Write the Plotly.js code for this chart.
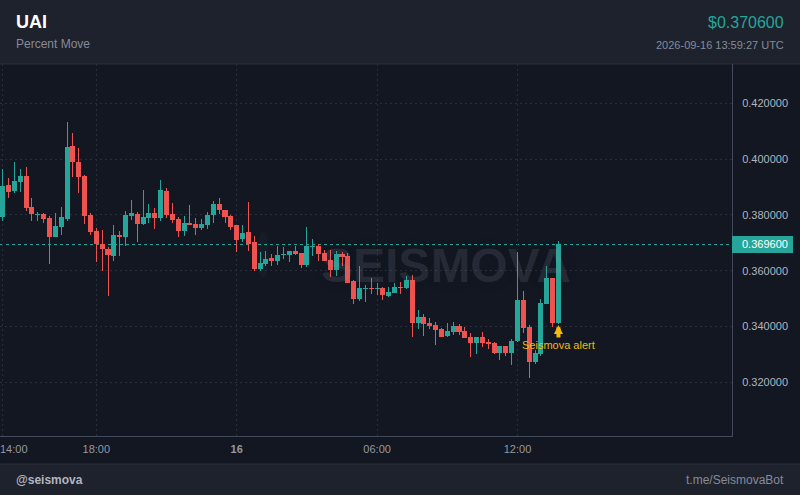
<!DOCTYPE html>
<html>
<head>
<meta charset="utf-8">
<script src="https://cdn.plot.ly/plotly-3.0.1.min.js"></script>
<style>
  html, body { margin: 0; padding: 0; background: #131722; }
  #chart { width: 800px; height: 495px; }
  /* keep wicks and bodies on whole pixels */
  #chart .boxlayer path, #chart .scatterlayer path { shape-rendering: crispEdges; }
</style>
</head>
<body>
<div id="chart"></div>
<script>
// 15 minute candles
var times = [
  '2026-09-15 14:00','2026-09-15 14:15','2026-09-15 14:30','2026-09-15 14:45',
  '2026-09-15 15:00','2026-09-15 15:15','2026-09-15 15:30','2026-09-15 15:45',
  '2026-09-15 16:00','2026-09-15 16:15','2026-09-15 16:30','2026-09-15 16:45',
  '2026-09-15 17:00','2026-09-15 17:15','2026-09-15 17:30','2026-09-15 17:45',
  '2026-09-15 18:00','2026-09-15 18:15','2026-09-15 18:30','2026-09-15 18:45',
  '2026-09-15 19:00','2026-09-15 19:15','2026-09-15 19:30','2026-09-15 19:45',
  '2026-09-15 20:00','2026-09-15 20:15','2026-09-15 20:30','2026-09-15 20:45',
  '2026-09-15 21:00','2026-09-15 21:15','2026-09-15 21:30','2026-09-15 21:45',
  '2026-09-15 22:00','2026-09-15 22:15','2026-09-15 22:30','2026-09-15 22:45',
  '2026-09-15 23:00','2026-09-15 23:15','2026-09-15 23:30','2026-09-15 23:45',
  '2026-09-16 00:00','2026-09-16 00:15','2026-09-16 00:30','2026-09-16 00:45',
  '2026-09-16 01:00','2026-09-16 01:15','2026-09-16 01:30','2026-09-16 01:45',
  '2026-09-16 02:00','2026-09-16 02:15','2026-09-16 02:30','2026-09-16 02:45',
  '2026-09-16 03:00','2026-09-16 03:15','2026-09-16 03:30','2026-09-16 03:45',
  '2026-09-16 04:00','2026-09-16 04:15','2026-09-16 04:30','2026-09-16 04:45',
  '2026-09-16 05:00','2026-09-16 05:15','2026-09-16 05:30','2026-09-16 05:45',
  '2026-09-16 06:00','2026-09-16 06:15','2026-09-16 06:30','2026-09-16 06:45',
  '2026-09-16 07:00','2026-09-16 07:15','2026-09-16 07:30','2026-09-16 07:45',
  '2026-09-16 08:00','2026-09-16 08:15','2026-09-16 08:30','2026-09-16 08:45',
  '2026-09-16 09:00','2026-09-16 09:15','2026-09-16 09:30','2026-09-16 09:45',
  '2026-09-16 10:00','2026-09-16 10:15','2026-09-16 10:30','2026-09-16 10:45',
  '2026-09-16 11:00','2026-09-16 11:15','2026-09-16 11:30','2026-09-16 11:45',
  '2026-09-16 12:00','2026-09-16 12:15','2026-09-16 12:30','2026-09-16 12:45',
  '2026-09-16 13:00','2026-09-16 13:15','2026-09-16 13:30','2026-09-16 13:45'
];
var opens = [
  .37925,.39072,.38856,.39179,.39394,.38283,.37996,.38032,
  .37889,.37208,.37566,.37853,.40469,.39896,.39394,.37996,
  .37423,.36945,.36778,.36527,.37279,.37208,.37960,.38032,
  .37674,.37889,.38068,.37889,.38856,.38032,.37853,.37423,
  .37710,.37674,.37531,.37638,.37997,.38391,.38176,.37961,
  .37638,.37136,.37387,.37029,.36061,.36240,.36455,.36348,
  .36563,.36563,.36706,.36635,.36205,.36850,.36886,.36635,
  .36384,.36025,.36599,.36527,.35631,.34986,.35344,.35380,
  .35344,.35380,.35093,.35201,.35416,.35380,.35667,.34126,
  .34341,.34126,.34054,.33911,.33660,.33803,.34018,.33839,
  .33624,.33409,.33624,.33445,.33409,.33051,.33301,.33051,
  .33481,.34950,.33982,.32728,.33015,.34807,.35739,.34126
];
var highs = [
  .39645,.39322,.39896,.39645,.39717,.38606,.38104,.38068,
  .37960,.38068,.38283,.41329,.40935,.40398,.39430,.38068,
  .37530,.37459,.36849,.37638,.37423,.38140,.38534,.38104,
  .38892,.38391,.38247,.39251,.38964,.38426,.37925,.37960,
  .38355,.37889,.37853,.38104,.38498,.38606,.38176,.37997,
  .37638,.37638,.38462,.37244,.36670,.36706,.36599,.36886,
  .36850,.36706,.36886,.36635,.37566,.37136,.36957,.36742,
  .36742,.36706,.36670,.36635,.35667,.36169,.35488,.35739,
  .35559,.35416,.35416,.35559,.35595,.35810,.35846,.34592,
  .34448,.34305,.34162,.33947,.34126,.34162,.34090,.33982,
  .33767,.33624,.33803,.33552,.33445,.33301,.33301,.33552,
  .36670,.35273,.34054,.33158,.34986,.36169,.35739,.37065
];
var lows = [
  .37793,.38618,.38785,.38821,.38140,.37781,.37793,.37710,
  .36240,.37208,.37279,.37781,.39358,.38785,.37674,.37279,
  .36312,.35989,.35093,.36348,.36527,.36885,.37817,.37029,
  .37638,.37710,.37494,.37781,.37889,.37710,.37208,.37244,
  .37638,.37279,.37459,.37495,.37710,.38032,.37710,.37459,
  .36670,.37029,.36706,.35989,.35989,.36169,.36169,.36205,
  .36420,.36312,.36563,.36097,.36133,.36527,.36348,.36348,
  .35774,.35810,.36169,.35559,.34807,.34914,.34878,.35165,
  .35129,.34950,.35058,.35201,.35165,.35344,.33624,.33911,
  .33660,.33911,.33337,.33624,.33624,.33696,.33696,.33588,
  .32907,.33015,.33266,.33194,.33015,.32800,.32943,.32620,
  .33445,.33767,.32154,.32656,.32943,.34807,.33982,.34090
];
var closes = [
  .39036,.38821,.39215,.39394,.38247,.38032,.38044,.37853,
  .37208,.37602,.37925,.40433,.39896,.39358,.37960,.37387,
  .36945,.36778,.36563,.37279,.37208,.37996,.38068,.37674,
  .37925,.38068,.37889,.38892,.37996,.37817,.37423,.37710,
  .37638,.37530,.37674,.37997,.38391,.38176,.37925,.37566,
  .37101,.37351,.36957,.36061,.36276,.36420,.36348,.36563,
  .36599,.36706,.36599,.36205,.36886,.36886,.36599,.36348,
  .36025,.36599,.36491,.35559,.34986,.35380,.35380,.35344,
  .35380,.35129,.35237,.35416,.35380,.35667,.34126,.34341,
  .34090,.34018,.33875,.33624,.33839,.34018,.33803,.33588,
  .33409,.33624,.33409,.33373,.33051,.33301,.33051,.33481,
  .34950,.33947,.32728,.33051,.34843,.35739,.34126,.36957
];

var priceTicks = [0.32, 0.34, 0.36, 0.38, 0.40, 0.42];
var timeTicks = ['2026-09-15 14:00', '2026-09-15 18:00', '2026-09-16 00:00', '2026-09-16 06:00', '2026-09-16 12:00'];
var timeLabels = ['', '18:00', '<b>16</b>', '06:00', '12:00'];

var symbol = 'UAI';
var subtitle = 'Percent Move';
var lastPrice = 0.3696;
var headerPrice = '$0.370600';
var stamp = '2026-09-16 13:59:27 UTC';
var alertTime = '2026-09-16 13:45';
var alertPrice = 0.34090;

var UP = '#26a69a', DOWN = '#ef5350';
var BG = '#131722', PANEL = '#1e222d';
var FONT = '"Liberation Sans", Arial, sans-serif';

// plot box in page pixels
var W = 800, H = 495, L = 0, R = 732, T = 64, B = 436;
function px(x) { return (x - L) / (R - L); }
function py(y) { return (B - y) / (B - T); }

function label(text, x, y, anchor, size, color) {
    return {
        text: text, xref: 'paper', yref: 'paper', x: px(x), y: py(y),
        xanchor: anchor, yanchor: 'middle', showarrow: false, borderpad: 0, borderwidth: 0,
        font: {family: FONT, size: size, color: color}
    };
}
function panel(y0, y1) {
    return {
        type: 'rect', layer: 'below', xref: 'paper', yref: 'paper',
        x0: px(0), x1: px(W), y0: py(y0), y1: py(y1),
        fillcolor: PANEL, line: {width: 0}
    };
}
function rule(y) {
    return {
        type: 'line', layer: 'below', xref: 'paper', yref: 'paper',
        x0: px(0), x1: px(W), y0: py(y), y1: py(y),
        line: {color: '#2a2e39', width: 1}
    };
}

// bodies come from the candlestick trace with no outline, so they keep their true height
var candles = {
    type: 'candlestick',
    x: times, open: opens, high: highs, low: lows, close: closes,
    increasing: {line: {color: UP, width: 0}, fillcolor: UP},
    decreasing: {line: {color: DOWN, width: 0}, fillcolor: DOWN},
    hoverinfo: 'skip',
    showlegend: false
};

// wicks as 1px line pieces, one trace per colour
function wicks(isUp, color) {
    var xs = [], ys = [];
    for (var i = 0; i < times.length; i++) {
        if ((closes[i] >= opens[i]) !== isUp) continue;
        xs.push(times[i], times[i], null);
        ys.push(lows[i], highs[i], null);
    }
    return {
        type: 'scatter', mode: 'lines', x: xs, y: ys,
        line: {color: color, width: 1},
        connectgaps: false, hoverinfo: 'skip', showlegend: false
    };
}

var annotations = [
    label('<b>' + symbol + '</b>', 16, 22, 'left', 18, '#ffffff'),
    label(subtitle, 16, 44, 'left', 12, '#868b98'),
    label(headerPrice, 784, 22, 'right', 16, UP),
    label(stamp, 784, 45, 'right', 11, '#868b98'),
    label('<b>@seismova</b>', 16, 480, 'left', 12, '#b2b5be'),
    label('t.me/SeismovaBot', 784, 480, 'right', 12, '#868b98'),
    label('14:00', 0, 449, 'left', 11, '#9598a1'),
    // watermark sits over the candles
    {
        text: '<b>SEISMOVA</b>', xref: 'paper', yref: 'paper', x: px(446), y: py(265),
        xanchor: 'center', yanchor: 'middle', showarrow: false,
        font: {family: FONT, size: 48, color: 'rgba(150,155,170,0.16)', shadow: '0 0 18px rgba(0,0,0,0.35)'}
    },
    // last price tag text
    {
        text: lastPrice.toFixed(6), xref: 'paper', yref: 'y', x: px(788), y: lastPrice,
        xanchor: 'right', yanchor: 'middle', showarrow: false, borderpad: 0, borderwidth: 0,
        yshift: -0.5,
        font: {family: FONT, size: 11, color: '#ffffff'}
    },
    // alert marker
    {
        text: 'Seismova alert', x: alertTime, y: alertPrice, xref: 'x', yref: 'y',
        showarrow: true, ax: 0, ay: 21, arrowhead: 2, arrowsize: 0.45, arrowwidth: 4,
        arrowcolor: '#f5b90b', standoff: 1,
        font: {family: FONT, size: 11, color: '#f0b90b'}
    }
];

var shapes = [
    panel(0, T), panel(464, H), rule(64), rule(464),
    {
        // faint mark left of the watermark text
        type: 'circle', layer: 'below', xref: 'paper', yref: 'paper',
        x0: px(257), x1: px(269), y0: py(232), y1: py(278),
        fillcolor: 'rgba(38,166,154,0.05)', line: {width: 0}
    },
    {
        // offset puts the line on a whole pixel row so it stays sharp
        type: 'line', layer: 'below', xref: 'paper', yref: 'y',
        ysizemode: 'pixel', yanchor: lastPrice,
        x0: 0, x1: 1, y0: -0.6, y1: -0.6,
        line: {color: UP, width: 1, dash: '3px,3px'}
    },
    {
        // last price tag box, right of the axis
        type: 'rect', layer: 'above', xref: 'paper', yref: 'y',
        xsizemode: 'pixel', xanchor: 1, x0: 0, x1: 61,
        ysizemode: 'pixel', yanchor: lastPrice, y0: -9, y1: 8,
        fillcolor: UP, line: {width: 0}
    }
];

var layout = {
    width: W, height: H,
    margin: {l: L, r: W - R, t: T, b: H - B, pad: 0},
    paper_bgcolor: BG,
    plot_bgcolor: BG,
    showlegend: false,
    boxgap: 0.14,
    boxgroupgap: 0,
    xaxis: {
        type: 'date',
        range: ['2026-09-15 13:53:04', '2026-09-16 21:10:00'],
        rangeslider: {visible: false},
        tickmode: 'array', tickvals: timeTicks, ticktext: timeLabels,
        tickfont: {family: FONT, size: 11, color: '#9598a1'},
        ticks: '', ticklabelstandoff: 3,
        showgrid: true, gridcolor: '#2a2e39', griddash: '2px,3px', gridwidth: 1,
        zeroline: false,
        showline: true, linecolor: '#434a5e', linewidth: 1,
        fixedrange: true
    },
    yaxis: {
        side: 'right',
        range: [0.30075, 0.43409],
        tickmode: 'array', tickvals: priceTicks,
        tickformat: '.6f',
        tickfont: {family: FONT, size: 11, color: '#b2b5be'},
        ticks: '', ticklabelstandoff: 7,
        showgrid: true, gridcolor: '#2a2e39', griddash: '2px,3px', gridwidth: 1,
        zeroline: false,
        showline: true, linecolor: '#434a5e', linewidth: 1,
        fixedrange: true
    },
    shapes: shapes,
    annotations: annotations
};

Plotly.newPlot('chart', [candles, wicks(true, UP), wicks(false, DOWN)], layout, {displayModeBar: false, staticPlot: true});
</script>
</body>
</html>
